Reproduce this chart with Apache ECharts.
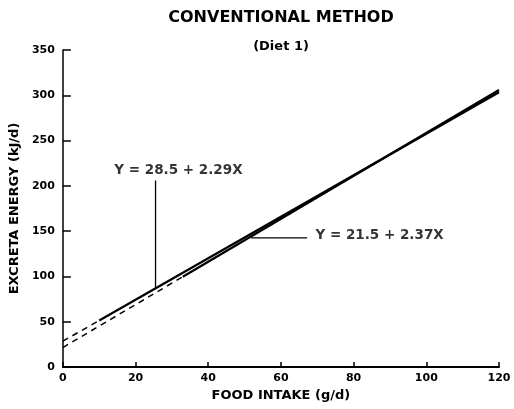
<!DOCTYPE html>
<html>
<head>
<meta charset="utf-8">
<script src="https://cdn.jsdelivr.net/npm/echarts@6/dist/echarts.min.js"></script>
<style>
html,body{margin:0;padding:0;background:#fff;}
#chart{width:514px;height:409px;}
</style>
</head>
<body>
<div id="chart"></div>
<script>
// 数据
var xTicks = [0, 20, 40, 60, 80, 100, 120];
var yTicks = [0, 50, 100, 150, 200, 250, 300, 350];
// Y = 28.5 + 2.29X
var line1Dash = [[0, 28.5], [10, 51.4]];
var line1Solid = [[10, 51.4], [120, 303.3]];
// Y = 21.5 + 2.37X
var line2Dash = [[0, 21.5], [33, 99.7]];
var line2Solid = [[33, 99.7], [120, 305.9]];
// 标注引线
var label1 = "Y = 28.5 + 2.29X";
var label2 = "Y = 21.5 + 2.37X";
var leader1 = [[25.5, 86.9], [25.5, 206]];
var leader2 = [[51.8, 142.5], [67.2, 142.5]];
var label1Pos = [[31.8, 217]];
var label2Pos = [[69.5, 145]];

var font = "DejaVu Sans";
var chart = echarts.init(document.getElementById("chart"));

function lineSeries(data, dashed, w)
{
    return {
        type: "line",
        data: data,
        symbol: "none",
        silent: true,
        lineStyle: {color: "#000", width: w, type: dashed ? [6, 5] : "solid"}
    };
}

// 文字标注
function textSeries(data, text, pos)
{
    return {
        type: "scatter",
        data: data,
        symbolSize: 0,
        silent: true,
        itemStyle: {color: "#000"},
        label: {
            show: true, position: pos, distance: 0, formatter: text,
            fontFamily: font, fontWeight: "bold", fontSize: 13.5, color: "#000"
        }
    };
}

var option = {
    backgroundColor: "#fff",
    animation: false,
    title: {
        text: "CONVENTIONAL METHOD",
        subtext: "(Diet 1)",
        left: 276,
        top: 5,
        textAlign: "center",
        itemGap: 14,
        textStyle: {fontFamily: font, fontWeight: "bold", fontSize: 16, color: "#000"},
        subtextStyle: {fontFamily: font, fontWeight: "bold", fontSize: 13, color: "#000"}
    },
    grid: {left: 61, right: 15, top: 50, bottom: 42},
    xAxis: {
        type: "value",
        min: 0, max: 120, interval: 20,
        name: "FOOD INTAKE (g/d)",
        nameLocation: "middle",
        nameGap: 22,
        nameTextStyle: {fontFamily: font, fontWeight: "bold", fontSize: 13, color: "#000"},
        axisLine: {lineStyle: {color: "#000", width: 2}},
        axisTick: {inside: true, length: 5, lineStyle: {color: "#000", width: 1.5}},
        axisLabel: {fontFamily: font, fontWeight: "bold", fontSize: 11, color: "#000", margin: 6},
        splitLine: {show: false}
    },
    yAxis: {
        type: "value",
        min: 0, max: 350, interval: 50,
        name: "EXCRETA ENERGY (kJ/d)",
        nameLocation: "middle",
        nameGap: 40,
        nameTextStyle: {fontFamily: font, fontWeight: "bold", fontSize: 13, color: "#000"},
        axisLine: {show: true, lineStyle: {color: "#000", width: 1.5}},
        axisTick: {show: true, inside: true, length: 8, lineStyle: {color: "#000", width: 1.5}},
        axisLabel: {fontFamily: font, fontWeight: "bold", fontSize: 11, color: "#000", margin: 8},
        splitLine: {show: false}
    },
    series: [
        lineSeries(line1Dash, true, 1.5),
        lineSeries(line1Solid, false, 2.2),
        lineSeries(line2Dash, true, 1.5),
        lineSeries(line2Solid, false, 2.2),
        lineSeries(leader1, false, 1.3),
        lineSeries(leader2, false, 1.3),
        textSeries(label1Pos, label1, "inside"),
        textSeries(label2Pos, label2, "right")
    ]
};
chart.setOption(option);
</script>
</body>
</html>
